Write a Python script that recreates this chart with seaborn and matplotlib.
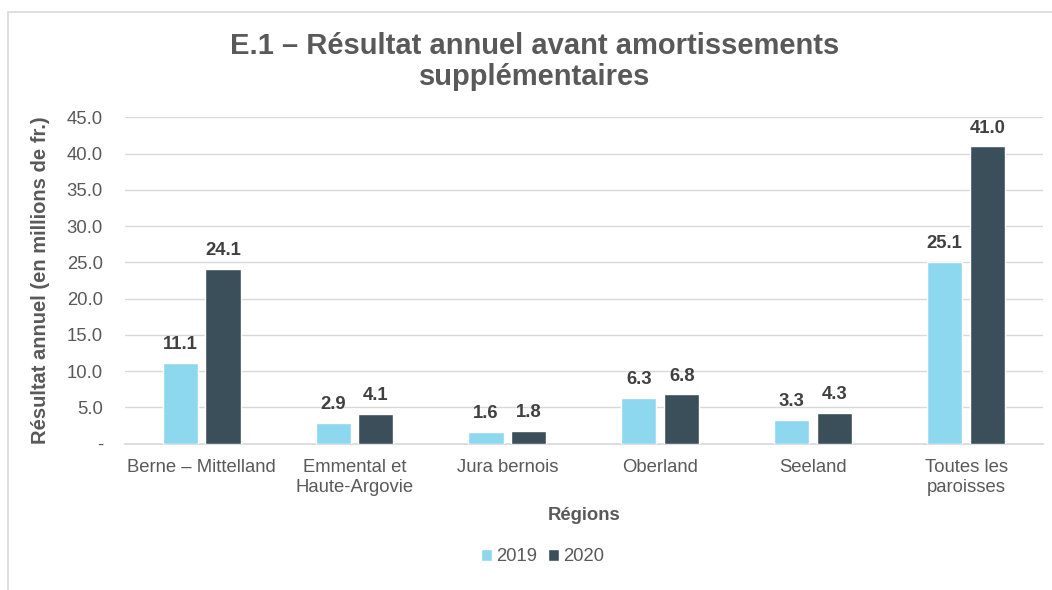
import pandas as pd
import numpy as np
import matplotlib.pyplot as plt
import seaborn as sns
from matplotlib.patches import Rectangle

# data
regions = ['Berne – Mittelland', 'Emmental et\nHaute-Argovie', 'Jura bernois',
           'Oberland', 'Seeland', 'Toutes les\nparoisses']
years = ['2019', '2020']
vals_2019 = [11.1, 2.9, 1.6, 6.3, 3.3, 25.1]
vals_2020 = [24.1, 4.1, 1.8, 6.8, 4.3, 41.0]
yticks = [0, 5, 10, 15, 20, 25, 30, 35, 40, 45]

df = pd.DataFrame({
    'Région': regions * 2,
    'Année': [years[0]] * len(regions) + [years[1]] * len(regions),
    'Valeur': vals_2019 + vals_2020,
})

sns.set_theme(style='white')
plt.rcParams['font.family'] = ['Liberation Sans', 'DejaVu Sans']
txt = '#595959'

fig = plt.figure(figsize=(10.52, 5.9), dpi=100)
fig.patches.append(Rectangle((0.008, -0.02), 1.1, 1.0, transform=fig.transFigure,
                             fill=False, edgecolor='#d9d9d9', lw=1.2))
ax = fig.add_axes([0.119, 0.248, 0.872, 0.553])

sns.barplot(data=df, x='Région', y='Valeur', hue='Année',
            palette=['#8dd7ef', '#3b4f5a'], width=0.56, gap=0.18,
            saturation=1, ax=ax, zorder=3)

for c in ax.containers:
    ax.bar_label(c, fmt='%.1f', padding=7, fontsize=13.3, fontweight='bold',
                 color='#404040')

ax.set_ylim(0, 45)
ax.set_yticks(yticks)
ax.set_yticklabels(['-'] + [f'{v:.1f}' for v in yticks[1:]])
ax.grid(axis='y', color='#d9d9d9', lw=1, zorder=0)
for s in ['top', 'right', 'left']:
    ax.spines[s].set_visible(False)
ax.spines['bottom'].set_color('#d9d9d9')
ax.tick_params(axis='both', length=0, labelsize=13.3, colors=txt, pad=11)
ax.tick_params(axis='y', pad=16)
ax.set_xlim(-0.5, 5.5)

ax.set_xlabel('Régions', fontsize=13.3, fontweight='bold', color=txt, labelpad=8)
ax.set_ylabel('Résultat annuel (en millions de fr.)', fontsize=14.5,
              fontweight='bold', color=txt, labelpad=12)
fig.suptitle('E.1 – Résultat annuel avant amortissements\nsupplémentaires',
             x=0.508, y=0.946, fontsize=21, fontweight='bold', color=txt,
             linespacing=1.15)

ax.legend(loc='upper center', bbox_to_anchor=(0.455, -0.27), ncol=2,
          frameon=False, fontsize=13.3, handlelength=0.6, handleheight=0.6,
          handletextpad=0.2, columnspacing=0.6, labelcolor=txt)

fig.savefig('out.png', dpi=100)
